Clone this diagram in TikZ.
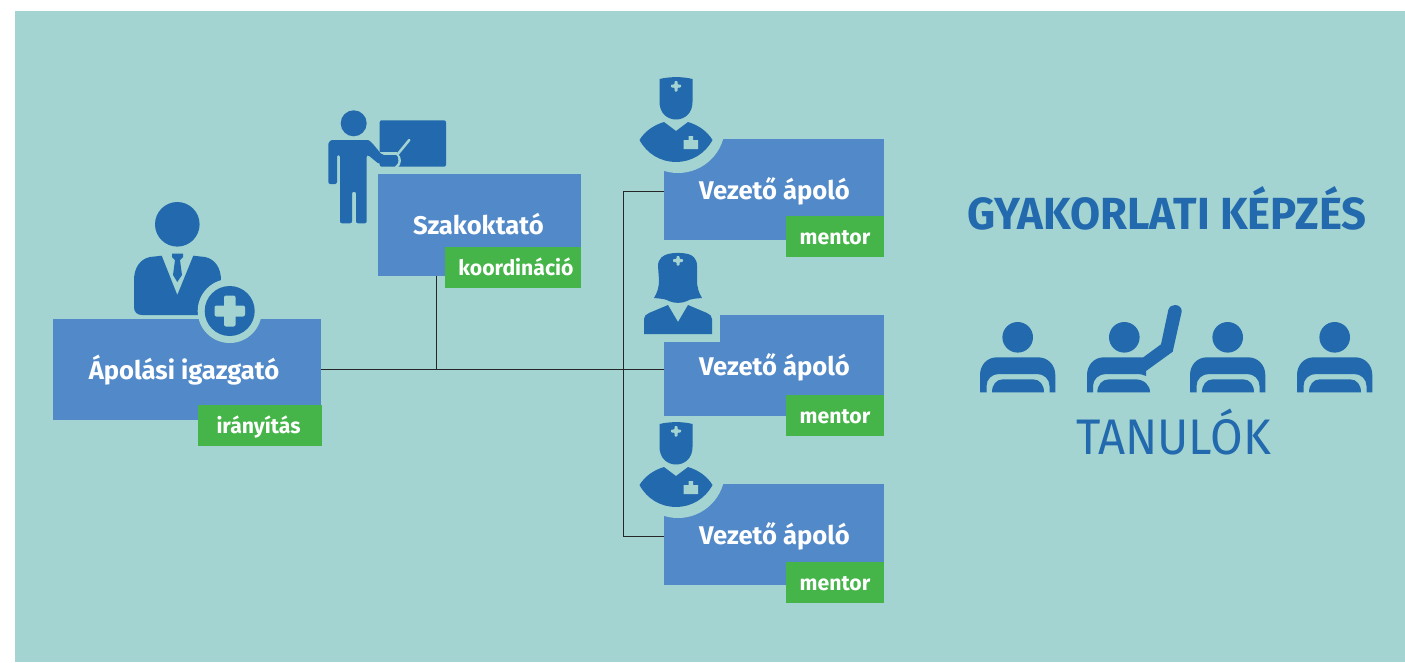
\documentclass[tikz,border=0pt]{standalone}
\usepackage{fontspec}
\usepackage{xcolor}
\usepackage{tikz}
\setmainfont{Fira Sans}

\definecolor{bgteal}{HTML}{A3D4D2}
\definecolor{boxblue}{HTML}{5189C9}
\definecolor{iconblue}{HTML}{2369AD}
\definecolor{taggreen}{HTML}{46B549}

\tikzset{
	boxnode/.style={fill=boxblue, text=white, font=\fontsize{25.6}{30}\selectfont\bfseries, minimum height=101, inner sep=0, text height=19, text depth=0},
	tagnode/.style={fill=taggreen, text=white, font=\fontsize{21.2}{24}\selectfont\bfseries, minimum height=41, inner sep=0, text height=15, text depth=0},
	connector/.style={color=black!85!white, line width=1},
	icon/.style={fill=iconblue},
	hole/.style={fill=bgteal}
}

\begin{document}
\begin{tikzpicture}[x=1pt, y=-1pt]

\useasboundingbox (0,0) rectangle (1405,662);
\fill[bgteal] (15,11) rectangle (1405,662);

\coordinate (trunk) at (436,369);
\coordinate (bustop) at (623,191);
\coordinate (busbot) at (623,536);

\node[boxnode, minimum width=268] (igazgato) at (187,369.5) {Ápolási igazgató\kern6pt};
\node[boxnode, minimum width=203, minimum height=102] (szakoktato) at (479.5,225) {Szakoktató\kern2pt};
\node[boxnode, minimum width=220] (vezeto1) at (774,189.5) {\kern1pt Vezető ápoló};
\node[boxnode, minimum width=220] (vezeto2) at (774,365.5) {\kern1pt Vezető ápoló};
\node[boxnode, minimum width=220] (vezeto3) at (774,534.5) {\kern1pt Vezető ápoló};

\draw[connector] (igazgato.east |- trunk)--(vezeto2.west |- trunk);
\draw[connector] (szakoktato.south -| trunk)--(trunk);
\draw[connector] (vezeto1.west |- bustop)--(bustop)--(busbot)--(vezeto3.west |- busbot);

% cuts in the boxes
\fill[hole] (663.5,314.5) rectangle (720,342);
\foreach \a in {0,345}{
	\begin{scope}[yshift=-\a]
	\fill[hole] (678,126) circle (47);
	\end{scope}
}

\node[tagnode, minimum width=124] (irany) at (260,425.5) {irányítás\kern3pt};
\node[tagnode, minimum width=136] (koord) at (513,267.5) {\kern2pt koordináció\kern-4pt};
\node[tagnode, minimum width=98] (mentor1) at (835,236.5) {mentor};
\node[tagnode, minimum width=98] (mentor2) at (835,415.5) {mentor};
\node[tagnode, minimum width=98] (mentor3) at (835,582.5) {mentor};

% igazgato
\fill[icon] (177.3,224.3) circle (22.3);
\fill[icon] (161.7,255.7)--(177.3,295)--(193.3,255.7)--(205,257)
	.. controls (215,259) and (221,268) .. (221,280)--(221,315)--(142,315)
	.. controls (137,315) and (134,312) .. (134,307)--(134,280)
	.. controls (134,268) and (140,259) .. (150,257)--cycle;
\fill[icon] (172,253.5)--(183,253.5)--(183,257)--(180,260)--(182,275)--(177.3,282)--(173,275)--(175,260)--(172,257)--cycle;
\fill[hole] (229.7,311) circle (32);
\fill[icon] (229.7,311) circle (25);
\fill[hole, rounded corners=2] (224,295.5) rectangle (235.5,326.5);
\fill[hole, rounded corners=2] (214.5,305.5) rectangle (245,316.5);

% szakoktato
\fill[icon] (353.7,123.3) circle (13);
\fill[icon, rounded corners=2] (379.7,120.3) rectangle (446,166.7);
\draw[bgteal, line width=2.5, line cap=round] (409.3,140)--(397,155) .. controls (400.5,157) and (401,164) .. (396,167.5);
\draw[bgteal, line width=2.5] (378,153.5)--(397,153.5);
\fill[icon, rounded corners=2] (337,184)--(328.3,184)--(328.3,146)
	.. controls (328.3,142) and (331,140) .. (334,140)--(366,140)
	.. controls (369,140) and (371,142) .. (373,144)--(382,155)--(394,155)
	.. controls (397,155) and (398,157) .. (398,160)
	.. controls (398,162) and (397,164) .. (394,164)--(379,164)--(368,155)--(366.7,155)
	--(366.7,223.3)--(356,223.3)--(356,191.7)--(352,191.7)--(352,223.3)--(340,223.3)--(340,155)--(337,155)--cycle;

% vezeto apolo, ferfi
\foreach \a in {0,345}{
	\begin{scope}[yshift=-\a]
	\fill[icon] (659.5,79) .. controls (670,76.5) and (683,76.5) .. (692.5,79)--(692.5,102)
		.. controls (692.5,113) and (685,119.5) .. (676,119.5)
		.. controls (667,119.5) and (659.5,113) .. (659.5,102)--cycle;
	\fill[hole, rounded corners=0.8] (674.5,81)--(677.5,81)--(677.5,84.5)--(681,84.5)--(681,87.5)--(677.5,87.5)--(677.5,91.5)--(674.5,91.5)--(674.5,87.5)--(671,87.5)--(671,84.5)--(674.5,84.5)--cycle;
	\fill[icon] (639.5,140) .. controls (645,131) and (654,125) .. (664,122)--(676,131)--(688,122)
		.. controls (698,125) and (707,131) .. (712.5,140)
		.. controls (705,154) and (691,162) .. (676,162)
		.. controls (661,162) and (647,154) .. (639.5,140)--cycle;
	\fill[hole] (683.5,149)--(698,149)--(698,140)--(693,140)--(693,136)--(688.5,136)--(688.5,140)--(683.5,140)--cycle;
	\end{scope}
}

% vezeto apolo, no
\fill[icon] (658,266) .. controls (658,258) and (664,255) .. (668,254)
	.. controls (674,252.5) and (682,252.5) .. (688,254)
	.. controls (692,255) and (697,258) .. (697,266)--(697,280)
	.. controls (697,288) and (699,293) .. (702,298)
	.. controls (695,298.5) and (690,299) .. (687,301)
	.. controls (682,303.5) and (674,303.5) .. (669,301)
	.. controls (666,299) and (660,298.5) .. (654,298)
	.. controls (657,293) and (659,288) .. (659,280)--cycle;
\fill[hole, rounded corners=0.8] (676.5,256)--(679.5,256)--(679.5,259)--(683,259)--(683,262)--(679.5,262)--(679.5,265.5)--(676.5,265.5)--(676.5,262)--(673,262)--(673,259)--(676.5,259)--cycle;
\fill[icon] (668,305)--(678,322)--(688,305)--(707,313)
	.. controls (710,314.5) and (712,316) .. (712,319)--(712,334)--(644,334)--(644,319)
	.. controls (644,316) and (646,314.5) .. (649,313)--cycle;

% tanulok
\foreach \a in {0,210,317}{
	\begin{scope}[xshift=\a]
	\fill[icon] (1017.7,337.3) circle (15.3);
	\fill[icon] (980,392.3)--(980,375) .. controls (980,365) and (987,357.3) .. (997,357.3)--(1038,357.3)
		.. controls (1048,357.3) and (1055.3,365) .. (1055.3,375)--(1055.3,392.3)--(1049.5,392.3)--(1049.5,386)
		.. controls (1049.5,379) and (1044,374) .. (1037,374)--(999,374)
		.. controls (992,374) and (986.5,379) .. (986.5,386)--(986.5,392.3)--cycle;
	\fill[icon] (992,392.3) .. controls (992,385) and (996,379.3) .. (1003,379.3)--(1033,379.3)
		.. controls (1040,379.3) and (1044,385) .. (1044,392.3)--cycle;
	\end{scope}
}
\fill[icon] (1124.3,337.3) circle (15.3);
\fill[icon] (1087,392.3)--(1087,375) .. controls (1087,365) and (1094,357.3) .. (1104,357.3)--(1143.3,357.3)--(1161,344.3)--(1168.3,310)
	.. controls (1169.5,306.5) and (1172,305) .. (1175,305)
	.. controls (1179,305) and (1182,308) .. (1181.7,311.5)--(1172.7,351.7)--(1146,371)--(1146,376)
	.. controls (1143,374.5) and (1140,374) .. (1136,374)--(1106,374)
	.. controls (1099,374) and (1093,379) .. (1093,386)--(1093,392.3)--cycle;
\fill[icon] (1097.3,392.3) .. controls (1097.3,385) and (1102,379.3) .. (1109,379.3)--(1135,379.3)
	.. controls (1144,379.3) and (1150,385) .. (1150,392.3)--cycle;

\node[text=iconblue, font=\fontsize{45}{50}\selectfont\bfseries, xscale=0.97, inner sep=0] (kepzes) at (1167,208.5) {GYAKORLATI KÉPZÉS};
\node[text=iconblue, font=\fontsize{50}{56}\selectfont, xscale=0.945, inner sep=0] (tanulok) at (1173.5,432) {TANULÓK};

\end{tikzpicture}
\end{document}
